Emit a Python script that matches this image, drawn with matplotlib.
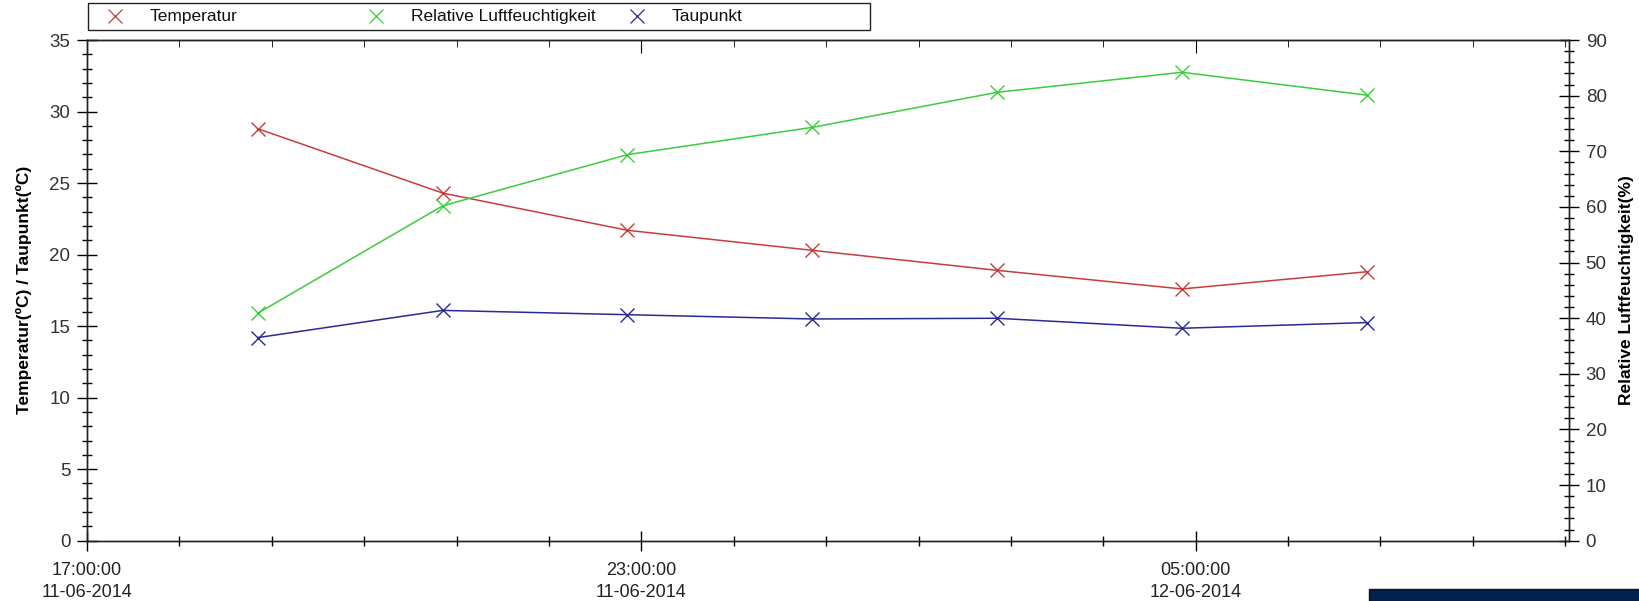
import matplotlib
matplotlib.use("Agg")
import matplotlib.pyplot as plt
import matplotlib.dates as mdates
from matplotlib.lines import Line2D
from matplotlib.patches import Rectangle
import pandas as pd

zeiten = ["2014-06-11 18:51", "2014-06-11 20:51", "2014-06-11 22:51",
          "2014-06-12 00:51", "2014-06-12 02:51", "2014-06-12 04:51",
          "2014-06-12 06:51"]
temperatur = [28.8, 24.3, 21.7, 20.3, 18.9, 17.6, 18.8]
luftfeuchte = [40.9, 60.2, 69.4, 74.3, 80.6, 84.2, 80.1]
taupunkt = [14.2, 16.1, 15.8, 15.5, 15.55, 14.85, 15.25]

namen = ["Temperatur", "Relative Luftfeuchtigkeit", "Taupunkt"]
farben = ["#c83c3c", "#3ccc3c", "#2a2a96"]

t = pd.to_datetime(zeiten)
x_start = pd.Timestamp("2014-06-11 17:00")
x_end = x_start + pd.Timedelta(hours=16.04)

plt.rcParams['font.family'] = ['Liberation Sans', 'DejaVu Sans']
narrow = ['Liberation Sans Narrow', 'Liberation Sans', 'DejaVu Sans']

fig = plt.figure(figsize=(16.4, 6.01), dpi=100)
ax = fig.add_axes([0.053, 0.1003, 0.9037, 0.8331])
ax2 = ax.twinx()

ax.plot(t, temperatur, color=farben[0], lw=1.1, marker='x', ms=10, mew=1)
ax.plot(t, taupunkt, color=farben[2], lw=1.1, marker='x', ms=10, mew=1)
ax2.plot(t, luftfeuchte, color=farben[1], lw=1.1, marker='x', ms=10, mew=1)

ax.set_xlim(x_start, x_end)
ax.set_ylim(0, 35)
ax2.set_ylim(0, 90)

ax.xaxis.set_major_locator(mdates.HourLocator(byhour=[5, 11, 17, 23]))
ax.xaxis.set_minor_locator(mdates.HourLocator(interval=1))
ax.xaxis.set_major_formatter(mdates.DateFormatter('%H:%M:%S\n%d-%m-%Y'))
ax.set_yticks(range(0, 36, 5))
ax.set_yticks(range(0, 36, 1), minor=True)
ax2.set_yticks(range(0, 91, 10))
ax2.set_yticks(range(0, 91, 2), minor=True)

ax.tick_params(axis='x', which='major', direction='inout', length=14, width=1,
               pad=8, labelsize=13, labelcolor='#222222')
ax.tick_params(axis='x', which='minor', direction='inout', length=7, width=1)
ax.tick_params(axis='y', which='major', direction='inout', length=14, width=1,
               pad=5, labelsize=13.5, labelcolor='#333333')
ax.tick_params(axis='y', which='minor', direction='inout', length=7, width=1)
ax2.tick_params(axis='y', which='major', direction='inout', length=14, width=1,
                pad=5, labelsize=13.5, labelcolor='#333333')
ax2.tick_params(axis='y', which='minor', direction='inout', length=7, width=1)
for lab in ax.get_xticklabels():
    lab.set_family(narrow)
    lab.set_linespacing(1.4)

# obere Achse nur mit Strichen
top = ax.secondary_xaxis('top')
top.xaxis.set_major_locator(mdates.HourLocator(byhour=[5, 11, 17, 23]))
top.xaxis.set_minor_locator(mdates.HourLocator(interval=1))
top.tick_params(which='major', direction='in', length=9, labeltop=False)
top.tick_params(which='minor', direction='in', length=5)
top.xaxis.set_major_formatter(plt.NullFormatter())

for a in (ax, ax2):
    for s in a.spines.values():
        s.set_linewidth(1)
        s.set_color('#222222')

ax.set_ylabel('Temperatur(ºC) / Taupunkt(ºC)', fontsize=12.5, fontweight='bold')
ax.yaxis.set_label_coords(-0.037, 0.5)
ax2.set_ylabel('Relative Luftfeuchtigkeit(%)', fontsize=12.5, fontweight='bold')
ax2.yaxis.set_label_coords(1.034, 0.5)

# Legende oben
fig.add_artist(Rectangle((88 / 1640, 1 - 30 / 601), (870 - 88) / 1640, 27 / 601,
                         transform=fig.transFigure, fill=False, ec='#222222', lw=1))
for i, (n, c) in enumerate(zip(namen, farben)):
    x0 = (115 + i * 261) / 1640
    fig.add_artist(Line2D([x0], [1 - 16 / 601], marker='x', ms=10, mew=0.9,
                          color=c, ls='none', transform=fig.transFigure))
    fig.text(x0 + 35 / 1640, 1 - 16 / 601, n, fontsize=12.5, family=narrow,
             va='center', ha='left', color='#111111')

# dunkler Balken unten rechts
fig.add_artist(Rectangle((1369 / 1640, 0), 1, 12 / 601, transform=fig.transFigure,
                         fc='#03214f', ec='#111111', lw=1))

fig.savefig('out.png', dpi=100)
